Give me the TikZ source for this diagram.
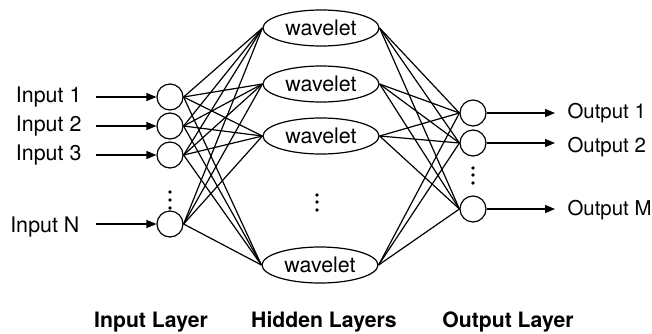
\documentclass[tikz,border=0pt]{standalone}
\usepackage{fontspec}
\setmainfont{TeX Gyre Heros}
\usetikzlibrary{positioning}
\usetikzlibrary{shapes}
\usetikzlibrary{shapes.geometric}
\usetikzlibrary{arrows.meta}

\begin{document}
\begin{tikzpicture}[x=0.5pt,y=-0.5pt,font=\fontsize{10.7}{12}\selectfont,line width=0.6pt]
          \useasboundingbox (0,0) rectangle (652,333);
          \begin{scope}[every node/.style={circle,draw,minimum size=13pt,inner sep=0pt}]
            \node (in1) at (170,97) {};
            \node (in2) at (170,126) {};
            \node (in3) at (170,155) {};
            \node (inN) at (170,224) {};
            \node (out1) at (473,113) {};
            \node (out2) at (473,143) {};
            \node (outM) at (473,209) {};
          \end{scope}
          \begin{scope}[every node/.style={ellipse,draw,minimum width=58pt,minimum height=18pt,inner sep=0pt}]
            \node (w1) at (321,28) {wavelet};
            \node (w2) at (321,84) {wavelet};
            \node (w3) at (321,136) {wavelet};
            \node (w4) at (320,265) {wavelet};
          \end{scope}
          \begin{scope}[every node/.style={inner sep=0pt}]
            \node[anchor=east] (lin1) at (82,97) {Input 1};
            \node[anchor=east] (lin2) at (82,126) {Input 2};
            \node[anchor=east] (lin3) at (82,155) {Input 3};
            \node[anchor=east] (linN) at (80,227) {Input N};
          \end{scope}
          \begin{scope}[every node/.style={inner sep=0pt,anchor=west,font=\fontsize{10.2}{12}\selectfont}]
            \node (lout1) at (567,113) {Output 1};
            \node (lout2) at (567,147) {Output 2};
            \node (loutM) at (567,210) {Output M};
          \end{scope}
          \begin{scope}[every node/.style={font=\fontsize{10.6}{12}\selectfont\bfseries}]
            \node (tin) at (151,322) {Input Layer};
            \node (thid) at (324,322) {Hidden Layers};
            \node (tout) at (508,322) {Output Layer};
          \end{scope}
          % vertical dots
          \fill (170,192) circle (0.9pt) (170,200) circle (0.9pt) (170,208) circle (0.9pt);
          \fill (317,195) circle (0.9pt) (317,202) circle (0.9pt) (317,210) circle (0.9pt);
          \fill (473,168) circle (0.9pt) (473,175) circle (0.9pt) (473,183) circle (0.9pt);
          \coordinate (ain1) at (96,97);
          \coordinate (ain2) at (96,126);
          \coordinate (ain3) at (96,155);
          \coordinate (ainN) at (96,224);
          \coordinate (aout1) at (555,113);
          \coordinate (aout2) at (555,143);
          \coordinate (aoutM) at (555,209);
          \begin{scope}[every path/.style={-{Triangle[length=5pt,width=4pt]}}]
            \draw (ain1) -- (in1);
            \draw (ain2) -- (in2);
            \draw (ain3) -- (in3);
            \draw (ainN) -- (inN);
            \draw (out1) -- (aout1);
            \draw (out2) -- (aout2);
            \draw (outM) -- (aoutM);
          \end{scope}
          \draw (in1.east) -- (w1.west);
          \draw (in1.east) -- (w2.west);
          \draw (in1.east) -- (w3.west);
          \draw (in1.east) -- (w4.west);
          \draw (in2.east) -- (w1.west);
          \draw (in2.east) -- (w2.west);
          \draw (in2.east) -- (w3.west);
          \draw (in2.east) -- (w4.west);
          \draw (in3.east) -- (w1.west);
          \draw (in3.east) -- (w2.west);
          \draw (in3.east) -- (w3.west);
          \draw (in3.east) -- (w4.west);
          \draw (inN.east) -- (w1.west);
          \draw (inN.east) -- (w2.west);
          \draw (inN.east) -- (w3.west);
          \draw (inN.east) -- (w4.west);
          \draw (w1.east) -- (out1.west);
          \draw (w1.east) -- (out2.west);
          \draw (w1.east) -- (outM.west);
          \draw (w2.east) -- (out1.west);
          \draw (w2.east) -- (out2.west);
          \draw (w2.east) -- (outM.west);
          \draw (w3.east) -- (out1.west);
          \draw (w3.east) -- (out2.west);
          \draw (w3.east) -- (outM.west);
          \draw (w4.east) -- (out1.west);
          \draw (w4.east) -- (out2.west);
          \draw (w4.east) -- (outM.west);
        \end{tikzpicture}
\end{document}
